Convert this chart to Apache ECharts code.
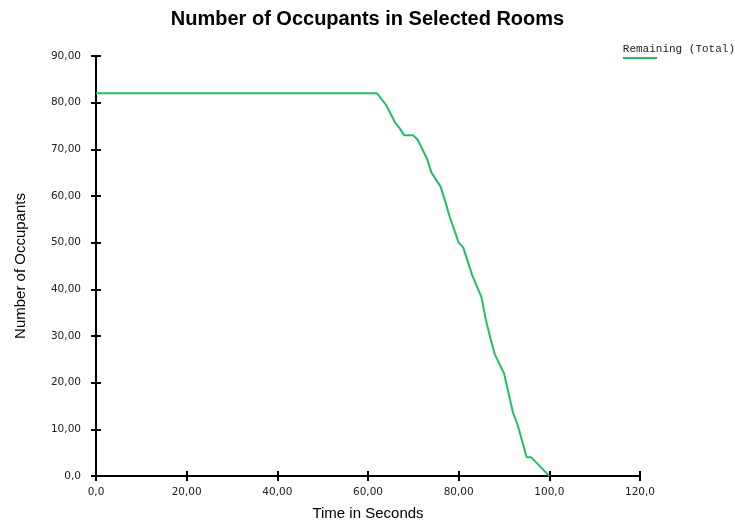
<!DOCTYPE html>
<html>
<head>
<meta charset="utf-8">
<script src="https://cdn.jsdelivr.net/npm/echarts@6/dist/echarts.min.js"></script>
<style>html,body{margin:0;padding:0;background:#fff;}#c{width:735px;height:520px;}</style>
</head>
<body>
<div id="c"></div>
<script>
var times = [0, 62, 64, 66, 67, 68, 70, 71, 73, 74, 76, 77, 78, 80, 81, 83, 85, 86, 87, 88, 90, 92, 93, 95, 96, 98, 100];
var remaining = [82, 82, 79.5, 75.7, 74.5, 73, 73, 72, 68, 65, 62, 59, 55.6, 50, 49, 43, 38.4, 33.5, 29.5, 26, 22, 13.5, 11, 4, 4, 2, 0];
var xTickLabels = ['0,0', '20,00', '40,00', '60,00', '80,00', '100,0', '120,0'];
var yTickLabels = ['0,0', '10,00', '20,00', '30,00', '40,00', '50,00', '60,00', '70,00', '80,00', '90,00'];
var seriesName = 'Remaining (Total)';
var lineColor = '#27bd66';

var chart = echarts.init(document.getElementById('c'));
var labelFont = "'DejaVu Sans', sans-serif";
var xInterval = 20, yInterval = 10;
function xFmt(v) { return xTickLabels[Math.round(v / xInterval)] || ''; }
function yFmt(v) { return yTickLabels[Math.round(v / yInterval)] || ''; }
var data = times.map(function (t, i) { return [t, remaining[i]]; });

chart.setOption({
  backgroundColor: '#fff',
  animation: false,
  title: {
    text: 'Number of Occupants in Selected Rooms',
    left: 'center', top: 4,
    textStyle: { fontFamily: 'Liberation Sans', fontWeight: 'bold', fontSize: 20, color: '#000' }
  },
  legend: {
    data: [{ name: seriesName, icon: 'none' }],
    right: 0, top: 42, itemWidth: 0, itemGap: 0, padding: 0,
    textStyle: { fontFamily: 'Liberation Mono', fontSize: 11, color: '#222', padding: [0, 0, 0, 0] },
    selectedMode: false
  },
  graphic: [{
    type: 'line', shape: { x1: 623, y1: 58, x2: 657, y2: 58 },
    style: { stroke: lineColor, lineWidth: 2 }, silent: true
  }],
  grid: { left: 96, right: 95, top: 56, bottom: 44, containLabel: false, outerBoundsMode: 'none' },
  xAxis: [{
    type: 'value', min: 0, max: 120, interval: xInterval,
    name: 'Time in Seconds', nameLocation: 'middle', nameGap: 30,
    nameTextStyle: { fontFamily: 'Liberation Sans', fontSize: 15, color: '#000' },
    axisLine: { show: true, onZero: false, lineStyle: { color: '#000', width: 2 } },
    axisTick: { show: true, length: 5, lineStyle: { color: '#000', width: 2 } },
    axisLabel: { formatter: xFmt, margin: 11, fontFamily: labelFont, fontSize: 10.5, color: '#222' },
    splitLine: { show: false }
  }, {
    type: 'value', min: 0, max: 120, interval: xInterval, position: 'bottom',
    axisLine: { show: false }, axisLabel: { show: false }, splitLine: { show: false },
    axisTick: { show: true, inside: true, length: 5, lineStyle: { color: '#000', width: 2 } }
  }],
  yAxis: [{
    type: 'value', min: 0, max: 90, interval: yInterval,
    name: 'Number of Occupants', nameLocation: 'middle', nameGap: 68, nameRotate: 90,
    nameTextStyle: { fontFamily: 'Liberation Sans', fontSize: 15, color: '#000' },
    axisLine: { show: true, onZero: false, lineStyle: { color: '#000', width: 2 } },
    axisTick: { show: true, length: 5, lineStyle: { color: '#000', width: 2 } },
    axisLabel: { formatter: yFmt, margin: 15, fontFamily: labelFont, fontSize: 10.5, color: '#222' },
    splitLine: { show: false }
  }, {
    type: 'value', min: 0, max: 90, interval: yInterval, position: 'left',
    axisLine: { show: false }, axisLabel: { show: false }, splitLine: { show: false },
    axisTick: { show: true, inside: true, length: 5, lineStyle: { color: '#000', width: 2 } }
  }],
  series: [{
    name: seriesName, type: 'line', xAxisIndex: 0, yAxisIndex: 0,
    data: data, showSymbol: false, symbol: 'none',
    lineStyle: { color: lineColor, width: 2 }, itemStyle: { color: lineColor }
  }]
});
</script>
</body>
</html>
